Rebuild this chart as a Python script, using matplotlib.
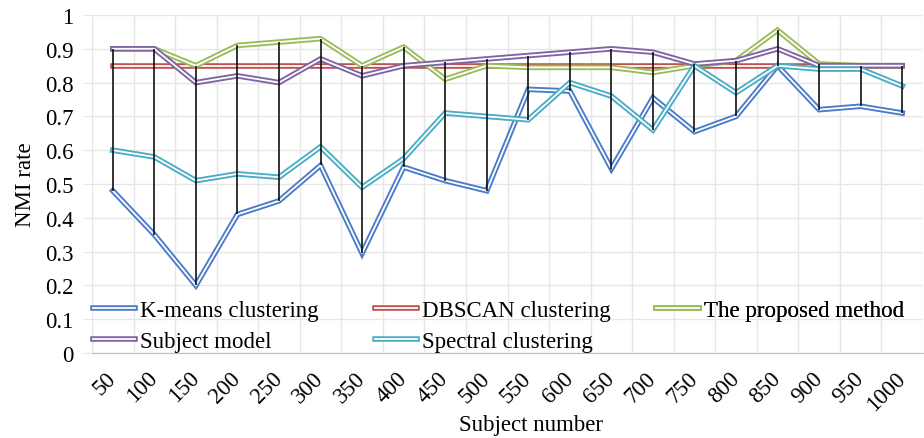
import numpy as np
import matplotlib
matplotlib.use("Agg")
import matplotlib.pyplot as plt

plt.rcParams['font.family'] = ['Liberation Serif', 'DejaVu Serif']

subjects = ["50", "100", "150", "200", "250", "300", "350", "400", "450", "500",
            "550", "600", "650", "700", "750", "800", "850", "900", "950", "1000"]

kmeans = [0.48, 0.35, 0.20, 0.41, 0.45, 0.555, 0.295, 0.55, 0.51, 0.48,
          0.78, 0.775, 0.545, 0.755, 0.655, 0.70, 0.85, 0.72, 0.73, 0.71]
dbscan = [0.85] * 20
proposed = [0.90, 0.90, 0.85, 0.91, 0.92, 0.93, 0.85, 0.905, 0.81, 0.85,
            0.845, 0.845, 0.845, 0.83, 0.85, 0.865, 0.955, 0.855, 0.85, 0.85]
subject_model = [0.90, 0.90, 0.80, 0.82, 0.80, 0.87, 0.82, 0.85, 0.86, 0.87,
                 0.88, 0.89, 0.90, 0.89, 0.855, 0.865, 0.90, 0.85, 0.85, 0.85]
spectral = [0.60, 0.58, 0.51, 0.53, 0.52, 0.61, 0.49, 0.575, 0.71, 0.70,
            0.69, 0.80, 0.76, 0.66, 0.85, 0.77, 0.85, 0.84, 0.84, 0.79]

series = [
    ("K-means clustering", kmeans, "#4A7BC8"),
    ("DBSCAN clustering", dbscan, "#C0504D"),
    ("The proposed method", proposed, "#9BBB59"),
    ("Subject model", subject_model, "#8064A2"),
    ("Spectral clustering", spectral, "#4BACC6"),
]

FS = 16.5

fig = plt.figure(figsize=(9.24, 4.39), dpi=100)
ax = fig.add_axes([92 / 924, 1 - 354 / 439, 831 / 924, 338 / 439])

x = np.arange(len(subjects))
handles = {}
for i, (name, vals, col) in enumerate(series):
    outer, = ax.plot(x, vals, color=col, lw=4.0, solid_joinstyle='miter', zorder=3 + i)
    inner, = ax.plot(x, vals, color='white', lw=1.3, solid_joinstyle='miter', zorder=3 + i)
    handles[name] = (outer, inner)

# high-low lines between the top and bottom series at each point
allv = np.array([s[1] for s in series])
ax.vlines(x, allv.min(axis=0), allv.max(axis=0), color='#111111', lw=1.2, zorder=10)

ax.set_xlim(-0.5, len(subjects) - 0.5)
ax.set_ylim(0, 1)
ax.set_yticks(np.arange(0, 1.01, 0.1))
ax.set_yticklabels(["0", "0.1", "0.2", "0.3", "0.4", "0.5", "0.6", "0.7", "0.8", "0.9", "1"])
ax.set_xticks(x)
ax.set_xticklabels(subjects, rotation=45, ha='right', va='center', rotation_mode='anchor')
ax.set_xticks(np.arange(-0.5, len(subjects), 1), minor=True)

ax.grid(True, axis='y', color='#e6e6e6', lw=1.0, zorder=0)
ax.grid(True, axis='x', which='minor', color='#e6e6e6', lw=1.0, zorder=0)
ax.grid(False, axis='x', which='major')
for s in ['top', 'right', 'left']:
    ax.spines[s].set_visible(False)
ax.spines['bottom'].set_color('#bfbfbf')
ax.tick_params(axis='y', length=6.5, color='#e6e6e6', labelsize=FS, pad=7)
ax.tick_params(axis='x', which='major', length=0, labelsize=FS, pad=15.5)
ax.tick_params(axis='x', which='minor', length=0)

ax.set_ylabel("NMI rate", fontsize=FS)
ax.yaxis.set_label_coords(-0.067, 0.5)
ax.set_xlabel("Subject number", fontsize=FS)
ax.xaxis.set_label_coords(0.528, -0.18)

legend_cols = [
    (["K-means clustering", "Subject model"], 0.001),
    (["DBSCAN clustering", "Spectral clustering"], 0.340),
    (["The proposed method"], 0.679),
]
for names, xpos in legend_cols:
    leg = ax.legend([handles[n] for n in names], names, loc='upper left',
                    bbox_to_anchor=(xpos, 0.157), frameon=False, fontsize=FS,
                    handlelength=1.85, handletextpad=0.22, labelspacing=0.43,
                    borderpad=0, borderaxespad=0)
    ax.add_artist(leg)

fig.savefig("out.png", dpi=100)
